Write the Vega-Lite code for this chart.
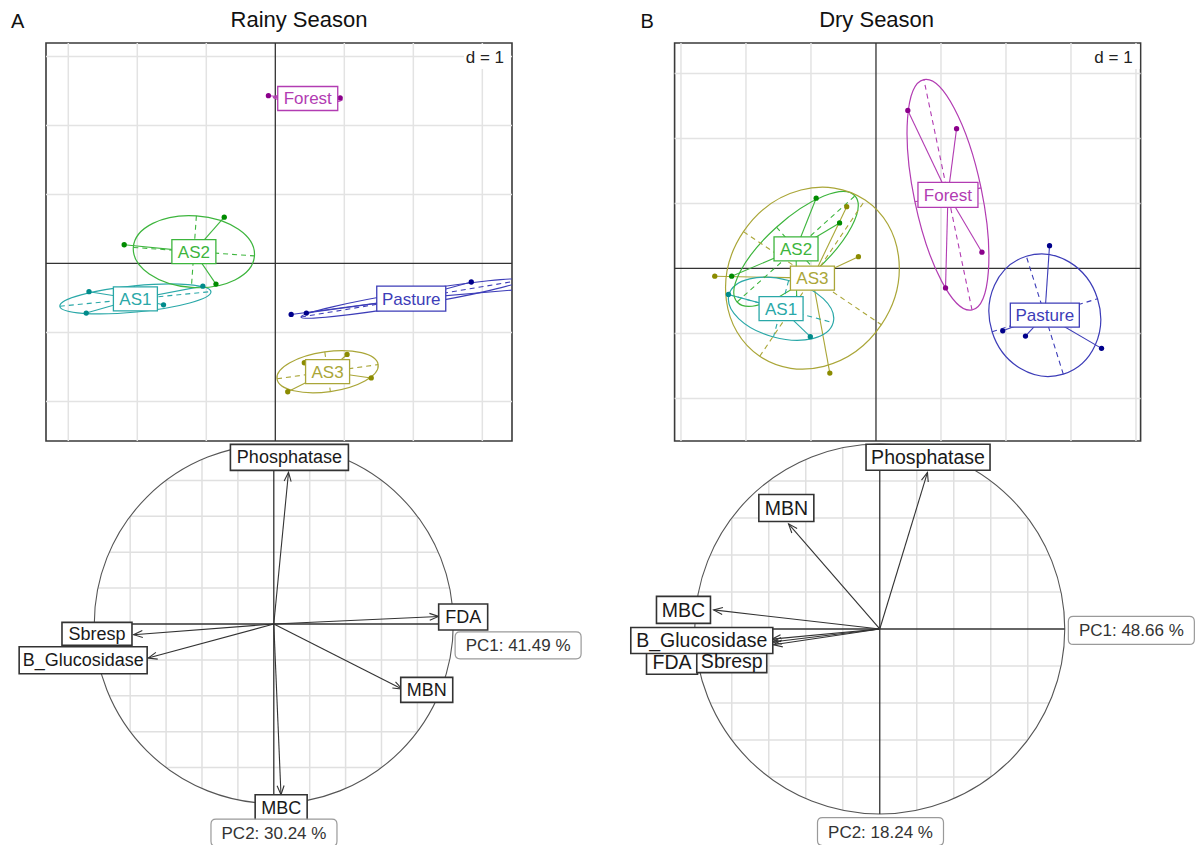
{
"$schema":"https://vega.github.io/schema/vega-lite/v6.json",
"padding":{"left":11,"top":8,"right":0,"bottom":0},
"background":"white",
"config":{"font":"Liberation Sans","view":{"stroke":null},"axis":{"disable":true},"legend":{"disable":true},"title":{"fontWeight":"normal","color":"#111"}},
"datasets":{
"rainy":[
{"group":"AS1","x":-2.70,"y":-0.41},{"group":"AS1","x":-2.74,"y":-0.72},{"group":"AS1","x":-1.62,"y":-0.60},{"group":"AS1","x":-1.05,"y":-0.33},
{"group":"AS2","x":-2.19,"y":0.27},{"group":"AS2","x":-0.74,"y":0.67},{"group":"AS2","x":-0.86,"y":-0.30},{"group":"AS2","x":-0.93,"y":0.04},
{"group":"AS3","x":0.18,"y":-1.86},{"group":"AS3","x":0.42,"y":-1.44},{"group":"AS3","x":1.04,"y":-1.32},{"group":"AS3","x":1.39,"y":-1.66},
{"group":"Forest","x":-0.10,"y":2.43},{"group":"Forest","x":0.94,"y":2.40},{"group":"Forest","x":0.50,"y":2.37},{"group":"Forest","x":0.54,"y":2.36},
{"group":"Pasture","x":0.23,"y":-0.74},{"group":"Pasture","x":0.45,"y":-0.72},{"group":"Pasture","x":2.84,"y":-0.27},{"group":"Pasture","x":4.36,"y":-0.31}
],
"dry":[
{"group":"AS1","x":-2.27,"y":-0.40},{"group":"AS1","x":-1.01,"y":-1.05},{"group":"AS1","x":-1.30,"y":-0.50},{"group":"AS1","x":-1.26,"y":-0.53},
{"group":"AS2","x":-0.92,"y":1.08},{"group":"AS2","x":-0.56,"y":0.70},{"group":"AS2","x":-2.22,"y":-0.12},{"group":"AS2","x":-1.22,"y":-0.46},
{"group":"AS3","x":-2.48,"y":-0.12},{"group":"AS3","x":-0.45,"y":0.95},{"group":"AS3","x":-0.27,"y":0.18},{"group":"AS3","x":-0.71,"y":-1.61},
{"group":"Forest","x":0.49,"y":2.43},{"group":"Forest","x":1.24,"y":2.15},{"group":"Forest","x":1.63,"y":0.25},{"group":"Forest","x":1.07,"y":-0.30},
{"group":"Pasture","x":2.67,"y":0.35},{"group":"Pasture","x":1.95,"y":-0.96},{"group":"Pasture","x":2.30,"y":-1.04},{"group":"Pasture","x":3.47,"y":-1.23}
],
"ellA":[{"group":"AS1","ang":5.5},{"group":"AS2","ang":-4},{"group":"AS3","ang":8},{"group":"Forest","ang":-2},{"group":"Pasture","ang":9.5}],
"ellB":[{"group":"AS1","ang":-15},{"group":"AS2","ang":42},{"group":"AS3","ang":56},{"group":"Forest","ang":101.8},{"group":"Pasture","ang":107.4}],
"gridA":[{"d":"x","v":-3},{"d":"x","v":-2},{"d":"x","v":-1},{"d":"x","v":1},{"d":"x","v":2},{"d":"x","v":3},{"d":"y","v":-2},{"d":"y","v":-1},{"d":"y","v":1},{"d":"y","v":2},{"d":"y","v":3}],
"gridB":[{"d":"x","v":-3},{"d":"x","v":-2},{"d":"x","v":-1},{"d":"x","v":1},{"d":"x","v":2},{"d":"x","v":3},{"d":"x","v":4},{"d":"y","v":-2},{"d":"y","v":-1},{"d":"y","v":1},{"d":"y","v":2},{"d":"y","v":3}],
"cgrid":[{"v":-0.8,"lo":-0.6,"hi":0.6},{"v":-0.6,"lo":-0.8,"hi":0.8},{"v":-0.4,"lo":-0.9165,"hi":0.9165},{"v":-0.2,"lo":-0.9798,"hi":0.9798},{"v":0.2,"lo":-0.9798,"hi":0.9798},{"v":0.4,"lo":-0.9165,"hi":0.9165},{"v":0.6,"lo":-0.8,"hi":0.8},{"v":0.8,"lo":-0.6,"hi":0.6}],
"varsA":[{"var":"Phosphatase","x":0.082,"y":0.845,"lx":0.087,"ly":0.928},{"var":"Sbresp","x":-0.781,"y":-0.06,"lx":-0.985,"ly":-0.055},{"var":"B_Glucosidase","x":-0.70,"y":-0.19,"lx":-1.062,"ly":-0.202},{"var":"MBC","x":0.04,"y":-0.951,"lx":0.041,"ly":-1.024},{"var":"FDA","x":0.918,"y":0.042,"lx":1.055,"ly":0.039},{"var":"MBN","x":0.714,"y":-0.362,"lx":0.852,"ly":-0.367}],
"varsB":[{"var":"Phosphatase","x":0.258,"y":0.846,"lx":0.261,"ly":0.928},{"var":"MBN","x":-0.493,"y":0.568,"lx":-0.505,"ly":0.654},{"var":"MBC","x":-0.898,"y":0.103,"lx":-1.061,"ly":0.103},{"var":"FDA","x":-0.58,"y":-0.07,"lx":-1.123,"ly":-0.18},{"var":"Sbresp","x":-0.575,"y":-0.085,"lx":-0.80,"ly":-0.171},{"var":"B_Glucosidase","x":-0.583,"y":-0.055,"lx":-0.962,"ly":-0.062}],
"pcA":[{"lab":"PC1: 41.49 %","x":1.361,"y":-0.119},{"lab":"PC2: 30.24 %","x":0.001,"y":-1.163}],
"pcB":[{"lab":"PC1: 48.66 %","x":1.36,"y":-0.008},{"lab":"PC2: 18.24 %","x":0.004,"y":-1.095}]
},
"spacing":628.6,
"bounds":"flush",
"resolve":{"scale":{"shape":"independent","stroke":"independent","fill":"independent","color":"independent","angle":"independent"}},
"hconcat":[
{
"title":{"text":"A","anchor":"start","frame":"group","dx":-35,"offset":-24,"fontSize":20},
"spacing":0,"bounds":"flush",
"resolve":{"scale":{"shape":"independent","stroke":"independent","fill":"independent","color":"independent","angle":"independent"}},
"vconcat":[
{
"width":466,"height":398,
"title":{"text":"Rainy Season","anchor":"middle","frame":"group","dx":20,"offset":10,"fontSize":22},
"view":{"stroke":"#3a3a3a","strokeWidth":1.6},
"resolve":{"scale":{"shape":"independent","stroke":"independent","fill":"independent","color":"independent","angle":"independent"}},
"layer":[
{"data":{"name":"gridA"},"transform":[{"filter":"datum.d == 'x'"}],"mark":{"type":"rule","color":"#e3e3e3","strokeWidth":1.5},"encoding":{"x":{"field":"v","type":"quantitative","scale":{"domain":[-3.323,3.43],"nice":false,"zero":false}}}},
{"data":{"name":"gridA"},"transform":[{"filter":"datum.d == 'y'"}],"mark":{"type":"rule","color":"#e3e3e3","strokeWidth":1.5},"encoding":{"y":{"field":"v","type":"quantitative","scale":{"domain":[-2.574,3.194],"nice":false,"zero":false}}}},
{"data":{"values":[{}]},"mark":{"type":"rule","color":"#333","strokeWidth":1.3},"encoding":{"x":{"datum":0,"type":"quantitative","scale":{"domain":[-3.323,3.43],"nice":false,"zero":false}}}},
{"data":{"values":[{}]},"mark":{"type":"rule","color":"#333","strokeWidth":1.3},"encoding":{"y":{"datum":0,"type":"quantitative","scale":{"domain":[-2.574,3.194],"nice":false,"zero":false}}}},
{"data":{"name":"rainy"},"transform":[{"joinaggregate":[{"op":"mean","field":"x","as":"cx"},{"op":"mean","field":"y","as":"cy"}],"groupby":["group"]}],
 "mark":{"type":"rule","strokeWidth":1.1,"clip":true},
 "encoding":{"x":{"field":"x","type":"quantitative","scale":{"domain":[-3.323,3.43],"nice":false,"zero":false}},"y":{"field":"y","type":"quantitative","scale":{"domain":[-2.574,3.194],"nice":false,"zero":false}},"x2":{"field":"cx"},"y2":{"field":"cy"},
 "stroke":{"field":"group","type":"nominal","scale":{"domain":["AS1","AS2","AS3","Forest","Pasture"],"range":["#2aa8a8","#3db53d","#aaa638","#b23cb2","#3d3db8"]}}}},
{"data":{"name":"rainy"},"transform":[{"aggregate":[{"op":"mean","field":"x","as":"cx"},{"op":"mean","field":"y","as":"cy"}],"groupby":["group"]},{"lookup":"group","from":{"data":{"name":"ellA"},"key":"group","fields":["ang"]}}],
 "mark":{"type":"point","filled":false,"fill":"transparent","size":19044,"strokeWidth":1.2,"opacity":1,"clip":true},
 "encoding":{"x":{"field":"cx","type":"quantitative","scale":{"domain":[-3.323,3.43],"nice":false,"zero":false}},"y":{"field":"cy","type":"quantitative","scale":{"domain":[-2.574,3.194],"nice":false,"zero":false}},
 "shape":{"field":"group","type":"nominal","scale":{"domain":["AS1","AS2","AS3","Forest","Pasture"],"range":[
 "M 1.1 0 C 1.1 0.105 0.608 0.19 0 0.19 C -0.608 0.19 -1.1 0.105 -1.1 0 C -1.1 -0.105 -0.608 -0.19 0 -0.19 C 0.608 -0.19 1.1 -0.105 1.1 0 Z",
 "M 0.88 0 C 0.88 0.287 0.486 0.52 0 0.52 C -0.486 0.52 -0.88 0.287 -0.88 0 C -0.88 -0.287 -0.486 -0.52 0 -0.52 C 0.486 -0.52 0.88 -0.287 0.88 0 Z",
 "M 0.74 0 C 0.74 0.16 0.409 0.29 0 0.29 C -0.409 0.29 -0.74 0.16 -0.74 0 C -0.74 -0.16 -0.409 -0.29 0 -0.29 C 0.409 -0.29 0.74 -0.16 0.74 0 Z",
 "M 0.5 0 C 0.5 0.028 0.276 0.05 0 0.05 C -0.276 0.05 -0.5 0.028 -0.5 0 C -0.5 -0.028 -0.276 -0.05 0 -0.05 C 0.276 -0.05 0.5 -0.028 0.5 0 Z",
 "M 1.62 0 C 1.62 0.055 0.895 0.1 0 0.1 C -0.895 0.1 -1.62 0.055 -1.62 0 C -1.62 -0.055 -0.895 -0.1 0 -0.1 C 0.895 -0.1 1.62 -0.055 1.62 0 Z"]}},
 "angle":{"field":"ang","type":"quantitative","scale":{"domain":[-180,180],"range":[180,-180]}},
 "stroke":{"field":"group","type":"nominal","scale":{"domain":["AS1","AS2","AS3","Forest","Pasture"],"range":["#2aa8a8","#3db53d","#aaa638","#b23cb2","#3d3db8"]}}}},
{"data":{"name":"rainy"},"transform":[{"aggregate":[{"op":"mean","field":"x","as":"cx"},{"op":"mean","field":"y","as":"cy"}],"groupby":["group"]},{"lookup":"group","from":{"data":{"name":"ellA"},"key":"group","fields":["ang"]}}],
 "mark":{"type":"point","filled":false,"fill":"transparent","size":19044,"strokeWidth":1.1,"strokeDash":[5,4],"opacity":1,"clip":true},
 "encoding":{"x":{"field":"cx","type":"quantitative","scale":{"domain":[-3.323,3.43],"nice":false,"zero":false}},"y":{"field":"cy","type":"quantitative","scale":{"domain":[-2.574,3.194],"nice":false,"zero":false}},
 "shape":{"field":"group","type":"nominal","scale":{"domain":["AS1","AS2","AS3","Forest","Pasture"],"range":["M -1.1 0 L 1.1 0 M 0 -0.19 L 0 0.19","M -0.88 0 L 0.88 0 M 0 -0.52 L 0 0.52","M -0.74 0 L 0.74 0 M 0 -0.29 L 0 0.29","M -0.5 0 L 0.5 0 M 0 -0.05 L 0 0.05","M -1.62 0 L 1.62 0 M 0 -0.1 L 0 0.1"]}},
 "angle":{"field":"ang","type":"quantitative","scale":{"domain":[-180,180],"range":[180,-180]}},
 "stroke":{"field":"group","type":"nominal","scale":{"domain":["AS1","AS2","AS3","Forest","Pasture"],"range":["#2aa8a8","#3db53d","#aaa638","#b23cb2","#3d3db8"]}}}},
{"data":{"name":"rainy"},"mark":{"type":"point","filled":true,"shape":"circle","size":28,"opacity":1,"clip":true},
 "encoding":{"x":{"field":"x","type":"quantitative","scale":{"domain":[-3.323,3.43],"nice":false,"zero":false}},"y":{"field":"y","type":"quantitative","scale":{"domain":[-2.574,3.194],"nice":false,"zero":false}},
 "fill":{"field":"group","type":"nominal","scale":{"domain":["AS1","AS2","AS3","Forest","Pasture"],"range":["#008b8b","#008b00","#8b8b00","#8b008b","#00008b"]}}}},
{"data":{"name":"rainy"},"transform":[{"aggregate":[{"op":"mean","field":"x","as":"cx"},{"op":"mean","field":"y","as":"cy"}],"groupby":["group"]}],
 "mark":{"type":"point","filled":true,"fill":"white","size":4,"strokeWidth":1.3,"opacity":1},
 "encoding":{"x":{"field":"cx","type":"quantitative","scale":{"domain":[-3.323,3.43],"nice":false,"zero":false}},"y":{"field":"cy","type":"quantitative","scale":{"domain":[-2.574,3.194],"nice":false,"zero":false}},
 "shape":{"field":"group","type":"nominal","scale":{"domain":["AS1","AS2","AS3","Forest","Pasture"],"range":["M -22 -12 L 22 -12 L 22 12 L -22 12 Z","M -22 -12 L 22 -12 L 22 12 L -22 12 Z","M -22 -12 L 22 -12 L 22 12 L -22 12 Z","M -30 -12 L 30 -12 L 30 12 L -30 12 Z","M -34.5 -12.5 L 34.5 -12.5 L 34.5 12.5 L -34.5 12.5 Z"]}},
 "stroke":{"field":"group","type":"nominal","scale":{"domain":["AS1","AS2","AS3","Forest","Pasture"],"range":["#2aa8a8","#3db53d","#aaa638","#b23cb2","#3d3db8"]}}}},
{"data":{"name":"rainy"},"transform":[{"aggregate":[{"op":"mean","field":"x","as":"cx"},{"op":"mean","field":"y","as":"cy"}],"groupby":["group"]}],
 "mark":{"type":"text","fontSize":17,"align":"center","baseline":"middle","dy":1},
 "encoding":{"x":{"field":"cx","type":"quantitative","scale":{"domain":[-3.323,3.43],"nice":false,"zero":false}},"y":{"field":"cy","type":"quantitative","scale":{"domain":[-2.574,3.194],"nice":false,"zero":false}},"text":{"field":"group"},
 "color":{"field":"group","type":"nominal","scale":{"domain":["AS1","AS2","AS3","Forest","Pasture"],"range":["#2aa8a8","#3db53d","#aaa638","#b23cb2","#3d3db8"]}}}},
{"data":{"values":[{}]},"mark":{"type":"point","filled":true,"fill":"white","strokeWidth":0,"size":4,"opacity":1,"shape":"M -48 1 L -1 1 L -1 26 L -48 26 Z"},"encoding":{"x":{"value":"width"},"y":{"value":0}}},
{"data":{"values":[{"t":"d = 1"}]},"mark":{"type":"text","align":"right","baseline":"middle","dx":-8,"dy":14.5,"fontSize":17,"color":"#222"},"encoding":{"x":{"value":"width"},"y":{"value":0},"text":{"field":"t"}}}
]
},
{
"width":466,"height":405,
"resolve":{"scale":{"shape":"independent","stroke":"independent","fill":"independent","color":"independent","angle":"independent"}},
"layer":[
{"data":{"name":"cgrid"},"mark":{"type":"rule","color":"#e0e0e0","strokeWidth":1.5},"encoding":{"y":{"field":"v","type":"quantitative","scale":{"domain":[-1.237,1.0195],"nice":false,"zero":false}},"x":{"field":"lo","type":"quantitative","scale":{"domain":[-1.269,1.327],"nice":false,"zero":false}},"x2":{"field":"hi"}}},
{"data":{"name":"cgrid"},"mark":{"type":"rule","color":"#e0e0e0","strokeWidth":1.5},"encoding":{"x":{"field":"v","type":"quantitative","scale":{"domain":[-1.269,1.327],"nice":false,"zero":false}},"y":{"field":"lo","type":"quantitative","scale":{"domain":[-1.237,1.0195],"nice":false,"zero":false}},"y2":{"field":"hi"}}},
{"data":{"values":[{}]},"mark":{"type":"point","shape":"circle","size":128881,"filled":false,"fill":"transparent","stroke":"#555","strokeWidth":1.1,"opacity":1},"encoding":{"x":{"datum":0,"type":"quantitative","scale":{"domain":[-1.269,1.327],"nice":false,"zero":false}},"y":{"datum":0,"type":"quantitative","scale":{"domain":[-1.237,1.0195],"nice":false,"zero":false}}}},
{"data":{"values":[{}]},"mark":{"type":"rule","color":"#333","strokeWidth":1.3},"encoding":{"x":{"datum":-1,"type":"quantitative","scale":{"domain":[-1.269,1.327],"nice":false,"zero":false}},"x2":{"datum":1},"y":{"datum":0,"type":"quantitative","scale":{"domain":[-1.237,1.0195],"nice":false,"zero":false}}}},
{"data":{"values":[{}]},"mark":{"type":"rule","color":"#333","strokeWidth":1.3},"encoding":{"y":{"datum":-1,"type":"quantitative","scale":{"domain":[-1.237,1.0195],"nice":false,"zero":false}},"y2":{"datum":1},"x":{"datum":0,"type":"quantitative","scale":{"domain":[-1.269,1.327],"nice":false,"zero":false}}}},
{"data":{"name":"varsA"},"mark":{"type":"rule","color":"#333","strokeWidth":1.1},"encoding":{"x":{"field":"x","type":"quantitative","scale":{"domain":[-1.269,1.327],"nice":false,"zero":false}},"y":{"field":"y","type":"quantitative","scale":{"domain":[-1.237,1.0195],"nice":false,"zero":false}},"x2":{"datum":0},"y2":{"datum":0}}},
{"data":{"name":"varsA"},"transform":[{"calculate":"-atan2(datum.y, datum.x) * 180 / PI","as":"ang"}],"mark":{"type":"point","filled":false,"fill":"transparent","stroke":"#333","strokeWidth":1.1,"size":4,"opacity":1,"shape":"M -9 -3.5 L 0 0 L -9 3.5"},"encoding":{"x":{"field":"x","type":"quantitative","scale":{"domain":[-1.269,1.327],"nice":false,"zero":false}},"y":{"field":"y","type":"quantitative","scale":{"domain":[-1.237,1.0195],"nice":false,"zero":false}},"angle":{"field":"ang","type":"quantitative","scale":null}}},
{"data":{"name":"varsA"},"mark":{"type":"point","filled":true,"fill":"white","stroke":"#333","strokeWidth":1.6,"size":4,"opacity":1},"encoding":{"x":{"field":"lx","type":"quantitative","scale":{"domain":[-1.269,1.327],"nice":false,"zero":false}},"y":{"field":"ly","type":"quantitative","scale":{"domain":[-1.237,1.0195],"nice":false,"zero":false}},
 "shape":{"field":"var","type":"nominal","scale":{"domain":["Phosphatase","Sbresp","B_Glucosidase","MBC","FDA","MBN"],"range":["M -59 -13 L 59 -13 L 59 13 L -59 13 Z","M -35 -11.5 L 35 -11.5 L 35 11.5 L -35 11.5 Z","M -64 -13.5 L 64 -13.5 L 64 13.5 L -64 13.5 Z","M -26 -13 L 26 -13 L 26 13 L -26 13 Z","M -24.5 -13 L 24.5 -13 L 24.5 13 L -24.5 13 Z","M -26 -12.5 L 26 -12.5 L 26 12.5 L -26 12.5 Z"]}}}},
{"data":{"name":"varsA"},"mark":{"type":"text","fontSize":18,"color":"#1a1a1a","align":"center","baseline":"middle","dy":1},"encoding":{"x":{"field":"lx","type":"quantitative","scale":{"domain":[-1.269,1.327],"nice":false,"zero":false}},"y":{"field":"ly","type":"quantitative","scale":{"domain":[-1.237,1.0195],"nice":false,"zero":false}},"text":{"field":"var"}}},
{"data":{"name":"pcA"},"mark":{"type":"point","filled":true,"fill":"white","stroke":"#9a9a9a","strokeWidth":1.2,"size":4,"opacity":1,"shape":"M -58 -13.5 L 58 -13.5 Q 63 -13.5 63 -8.5 L 63 8.5 Q 63 13.5 58 13.5 L -58 13.5 Q -63 13.5 -63 8.5 L -63 -8.5 Q -63 -13.5 -58 -13.5 Z"},"encoding":{"x":{"field":"x","type":"quantitative","scale":{"domain":[-1.269,1.327],"nice":false,"zero":false}},"y":{"field":"y","type":"quantitative","scale":{"domain":[-1.237,1.0195],"nice":false,"zero":false}}}},
{"data":{"name":"pcA"},"mark":{"type":"text","fontSize":17,"color":"#333","align":"center","baseline":"middle","dy":1},"encoding":{"x":{"field":"x","type":"quantitative","scale":{"domain":[-1.269,1.327],"nice":false,"zero":false}},"y":{"field":"y","type":"quantitative","scale":{"domain":[-1.237,1.0195],"nice":false,"zero":false}},"text":{"field":"lab"}}}
]
}
]
},
{
"title":{"text":"B","anchor":"start","frame":"group","dx":-34,"offset":-24,"fontSize":20},
"spacing":0,"bounds":"flush",
"resolve":{"scale":{"shape":"independent","stroke":"independent","fill":"independent","color":"independent","angle":"independent"}},
"vconcat":[
{
"width":466,"height":398,
"title":{"text":"Dry Season","anchor":"middle","frame":"group","dx":-31,"offset":10,"fontSize":22},
"view":{"stroke":"#3a3a3a","strokeWidth":1.6},
"resolve":{"scale":{"shape":"independent","stroke":"independent","fill":"independent","color":"independent","angle":"independent"}},
"layer":[
{"data":{"name":"gridB"},"transform":[{"filter":"datum.d == 'x'"}],"mark":{"type":"rule","color":"#e3e3e3","strokeWidth":1.5},"encoding":{"x":{"field":"v","type":"quantitative","scale":{"domain":[-3.098,4.071],"nice":false,"zero":false}}}},
{"data":{"name":"gridB"},"transform":[{"filter":"datum.d == 'y'"}],"mark":{"type":"rule","color":"#e3e3e3","strokeWidth":1.5},"encoding":{"y":{"field":"v","type":"quantitative","scale":{"domain":[-2.655,3.468],"nice":false,"zero":false}}}},
{"data":{"values":[{}]},"mark":{"type":"rule","color":"#333","strokeWidth":1.3},"encoding":{"x":{"datum":0,"type":"quantitative","scale":{"domain":[-3.098,4.071],"nice":false,"zero":false}}}},
{"data":{"values":[{}]},"mark":{"type":"rule","color":"#333","strokeWidth":1.3},"encoding":{"y":{"datum":0,"type":"quantitative","scale":{"domain":[-2.655,3.468],"nice":false,"zero":false}}}},
{"data":{"name":"dry"},"transform":[{"joinaggregate":[{"op":"mean","field":"x","as":"cx"},{"op":"mean","field":"y","as":"cy"}],"groupby":["group"]}],
 "mark":{"type":"rule","strokeWidth":1.1,"clip":true},
 "encoding":{"x":{"field":"x","type":"quantitative","scale":{"domain":[-3.098,4.071],"nice":false,"zero":false}},"y":{"field":"y","type":"quantitative","scale":{"domain":[-2.655,3.468],"nice":false,"zero":false}},"x2":{"field":"cx"},"y2":{"field":"cy"},
 "stroke":{"field":"group","type":"nominal","scale":{"domain":["AS1","AS2","AS3","Forest","Pasture"],"range":["#2aa8a8","#3db53d","#aaa638","#b23cb2","#3d3db8"]}}}},
{"data":{"name":"dry"},"transform":[{"aggregate":[{"op":"mean","field":"x","as":"cx"},{"op":"mean","field":"y","as":"cy"}],"groupby":["group"]},{"lookup":"group","from":{"data":{"name":"ellB"},"key":"group","fields":["ang"]}}],
 "mark":{"type":"point","filled":false,"fill":"transparent","size":16900,"strokeWidth":1.2,"opacity":1,"clip":true},
 "encoding":{"x":{"field":"cx","type":"quantitative","scale":{"domain":[-3.098,4.071],"nice":false,"zero":false}},"y":{"field":"cy","type":"quantitative","scale":{"domain":[-2.655,3.468],"nice":false,"zero":false}},
 "shape":{"field":"group","type":"nominal","scale":{"domain":["AS1","AS2","AS3","Forest","Pasture"],"range":[
 "M 0.83 0 C 0.83 0.249 0.458 0.45 0 0.45 C -0.458 0.45 -0.83 0.249 -0.83 0 C -0.83 -0.249 -0.458 -0.45 0 -0.45 C 0.458 -0.45 0.83 -0.249 0.83 0 Z",
 "M 1.22 0 C 1.22 0.249 0.674 0.45 0 0.45 C -0.674 0.45 -1.22 0.249 -1.22 0 C -1.22 -0.249 -0.674 -0.45 0 -0.45 C 0.674 -0.45 1.22 -0.249 1.22 0 Z",
 "M 1.45 0 C 1.45 0.707 0.801 1.28 0 1.28 C -0.801 1.28 -1.45 0.707 -1.45 0 C -1.45 -0.707 -0.801 -1.28 0 -1.28 C 0.801 -1.28 1.45 -0.707 1.45 0 Z",
 "M 1.81 0 C 1.81 0.287 1 0.52 0 0.52 C -1 0.52 -1.81 0.287 -1.81 0 C -1.81 -0.287 -1 -0.52 0 -0.52 C 1 -0.52 1.81 -0.287 1.81 0 Z",
 "M 0.95 0 C 0.95 0.469 0.525 0.85 0 0.85 C -0.525 0.85 -0.95 0.469 -0.95 0 C -0.95 -0.469 -0.525 -0.85 0 -0.85 C 0.525 -0.85 0.95 -0.469 0.95 0 Z"]}},
 "angle":{"field":"ang","type":"quantitative","scale":{"domain":[-180,180],"range":[180,-180]}},
 "stroke":{"field":"group","type":"nominal","scale":{"domain":["AS1","AS2","AS3","Forest","Pasture"],"range":["#2aa8a8","#3db53d","#aaa638","#b23cb2","#3d3db8"]}}}},
{"data":{"name":"dry"},"transform":[{"aggregate":[{"op":"mean","field":"x","as":"cx"},{"op":"mean","field":"y","as":"cy"}],"groupby":["group"]},{"lookup":"group","from":{"data":{"name":"ellB"},"key":"group","fields":["ang"]}}],
 "mark":{"type":"point","filled":false,"fill":"transparent","size":16900,"strokeWidth":1.1,"strokeDash":[5,4],"opacity":1,"clip":true},
 "encoding":{"x":{"field":"cx","type":"quantitative","scale":{"domain":[-3.098,4.071],"nice":false,"zero":false}},"y":{"field":"cy","type":"quantitative","scale":{"domain":[-2.655,3.468],"nice":false,"zero":false}},
 "shape":{"field":"group","type":"nominal","scale":{"domain":["AS1","AS2","AS3","Forest","Pasture"],"range":["M -0.83 0 L 0.83 0 M 0 -0.45 L 0 0.45","M -1.22 0 L 1.22 0 M 0 -0.45 L 0 0.45","M -1.45 0 L 1.45 0 M 0 -1.28 L 0 1.28","M -1.81 0 L 1.81 0 M 0 -0.52 L 0 0.52","M -0.95 0 L 0.95 0 M 0 -0.85 L 0 0.85"]}},
 "angle":{"field":"ang","type":"quantitative","scale":{"domain":[-180,180],"range":[180,-180]}},
 "stroke":{"field":"group","type":"nominal","scale":{"domain":["AS1","AS2","AS3","Forest","Pasture"],"range":["#2aa8a8","#3db53d","#aaa638","#b23cb2","#3d3db8"]}}}},
{"data":{"name":"dry"},"mark":{"type":"point","filled":true,"shape":"circle","size":28,"opacity":1,"clip":true},
 "encoding":{"x":{"field":"x","type":"quantitative","scale":{"domain":[-3.098,4.071],"nice":false,"zero":false}},"y":{"field":"y","type":"quantitative","scale":{"domain":[-2.655,3.468],"nice":false,"zero":false}},
 "fill":{"field":"group","type":"nominal","scale":{"domain":["AS1","AS2","AS3","Forest","Pasture"],"range":["#008b8b","#008b00","#8b8b00","#8b008b","#00008b"]}}}},
{"data":{"name":"dry"},"transform":[{"aggregate":[{"op":"mean","field":"x","as":"cx"},{"op":"mean","field":"y","as":"cy"}],"groupby":["group"]}],
 "mark":{"type":"point","filled":true,"fill":"white","size":4,"strokeWidth":1.3,"opacity":1},
 "encoding":{"x":{"field":"cx","type":"quantitative","scale":{"domain":[-3.098,4.071],"nice":false,"zero":false}},"y":{"field":"cy","type":"quantitative","scale":{"domain":[-2.655,3.468],"nice":false,"zero":false}},
 "shape":{"field":"group","type":"nominal","scale":{"domain":["AS1","AS2","AS3","Forest","Pasture"],"range":["M -22 -12 L 22 -12 L 22 12 L -22 12 Z","M -22 -12 L 22 -12 L 22 12 L -22 12 Z","M -22 -12 L 22 -12 L 22 12 L -22 12 Z","M -30 -12.5 L 30 -12.5 L 30 12.5 L -30 12.5 Z","M -34.5 -12 L 34.5 -12 L 34.5 12 L -34.5 12 Z"]}},
 "stroke":{"field":"group","type":"nominal","scale":{"domain":["AS1","AS2","AS3","Forest","Pasture"],"range":["#2aa8a8","#3db53d","#aaa638","#b23cb2","#3d3db8"]}}}},
{"data":{"name":"dry"},"transform":[{"aggregate":[{"op":"mean","field":"x","as":"cx"},{"op":"mean","field":"y","as":"cy"}],"groupby":["group"]}],
 "mark":{"type":"text","fontSize":17,"align":"center","baseline":"middle","dy":1},
 "encoding":{"x":{"field":"cx","type":"quantitative","scale":{"domain":[-3.098,4.071],"nice":false,"zero":false}},"y":{"field":"cy","type":"quantitative","scale":{"domain":[-2.655,3.468],"nice":false,"zero":false}},"text":{"field":"group"},
 "color":{"field":"group","type":"nominal","scale":{"domain":["AS1","AS2","AS3","Forest","Pasture"],"range":["#2aa8a8","#3db53d","#aaa638","#b23cb2","#3d3db8"]}}}},
{"data":{"values":[{}]},"mark":{"type":"point","filled":true,"fill":"white","strokeWidth":0,"size":4,"opacity":1,"shape":"M -48 1 L -1 1 L -1 26 L -48 26 Z"},"encoding":{"x":{"value":"width"},"y":{"value":0}}},
{"data":{"values":[{"t":"d = 1"}]},"mark":{"type":"text","align":"right","baseline":"middle","dx":-8,"dy":14.5,"fontSize":17,"color":"#222"},"encoding":{"x":{"value":"width"},"y":{"value":0},"text":{"field":"t"}}}
]
},
{
"width":466,"height":405,
"resolve":{"scale":{"shape":"independent","stroke":"independent","fill":"independent","color":"independent","angle":"independent"}},
"layer":[
{"data":{"name":"cgrid"},"mark":{"type":"rule","color":"#e0e0e0","strokeWidth":1.5},"encoding":{"y":{"field":"v","type":"quantitative","scale":{"domain":[-1.173,1.016],"nice":false,"zero":false}},"x":{"field":"lo","type":"quantitative","scale":{"domain":[-1.109,1.41],"nice":false,"zero":false}},"x2":{"field":"hi"}}},
{"data":{"name":"cgrid"},"mark":{"type":"rule","color":"#e0e0e0","strokeWidth":1.5},"encoding":{"x":{"field":"v","type":"quantitative","scale":{"domain":[-1.109,1.41],"nice":false,"zero":false}},"y":{"field":"lo","type":"quantitative","scale":{"domain":[-1.173,1.016],"nice":false,"zero":false}},"y2":{"field":"hi"}}},
{"data":{"values":[{}]},"mark":{"type":"point","shape":"circle","size":136900,"filled":false,"fill":"transparent","stroke":"#555","strokeWidth":1.1,"opacity":1},"encoding":{"x":{"datum":0,"type":"quantitative","scale":{"domain":[-1.109,1.41],"nice":false,"zero":false}},"y":{"datum":0,"type":"quantitative","scale":{"domain":[-1.173,1.016],"nice":false,"zero":false}}}},
{"data":{"values":[{}]},"mark":{"type":"rule","color":"#333","strokeWidth":1.3},"encoding":{"x":{"datum":-1,"type":"quantitative","scale":{"domain":[-1.109,1.41],"nice":false,"zero":false}},"x2":{"datum":1},"y":{"datum":0,"type":"quantitative","scale":{"domain":[-1.173,1.016],"nice":false,"zero":false}}}},
{"data":{"values":[{}]},"mark":{"type":"rule","color":"#333","strokeWidth":1.3},"encoding":{"y":{"datum":-1,"type":"quantitative","scale":{"domain":[-1.173,1.016],"nice":false,"zero":false}},"y2":{"datum":1},"x":{"datum":0,"type":"quantitative","scale":{"domain":[-1.109,1.41],"nice":false,"zero":false}}}},
{"data":{"name":"varsB"},"mark":{"type":"rule","color":"#333","strokeWidth":1.1},"encoding":{"x":{"field":"x","type":"quantitative","scale":{"domain":[-1.109,1.41],"nice":false,"zero":false}},"y":{"field":"y","type":"quantitative","scale":{"domain":[-1.173,1.016],"nice":false,"zero":false}},"x2":{"datum":0},"y2":{"datum":0}}},
{"data":{"name":"varsB"},"transform":[{"calculate":"-atan2(datum.y, datum.x) * 180 / PI","as":"ang"}],"mark":{"type":"point","filled":false,"fill":"transparent","stroke":"#333","strokeWidth":1.1,"size":4,"opacity":1,"shape":"M -9 -3.5 L 0 0 L -9 3.5"},"encoding":{"x":{"field":"x","type":"quantitative","scale":{"domain":[-1.109,1.41],"nice":false,"zero":false}},"y":{"field":"y","type":"quantitative","scale":{"domain":[-1.173,1.016],"nice":false,"zero":false}},"angle":{"field":"ang","type":"quantitative","scale":null}}},
{"data":{"name":"varsB"},"mark":{"type":"point","filled":true,"fill":"white","stroke":"#333","strokeWidth":1.6,"size":4,"opacity":1},"encoding":{"x":{"field":"lx","type":"quantitative","scale":{"domain":[-1.109,1.41],"nice":false,"zero":false}},"y":{"field":"ly","type":"quantitative","scale":{"domain":[-1.173,1.016],"nice":false,"zero":false}},
 "shape":{"field":"var","type":"nominal","scale":{"domain":["Phosphatase","MBN","MBC","FDA","Sbresp","B_Glucosidase"],"range":["M -62 -13 L 62 -13 L 62 13 L -62 13 Z","M -27.5 -13.5 L 27.5 -13.5 L 27.5 13.5 L -27.5 13.5 Z","M -27 -13.5 L 27 -13.5 L 27 13.5 L -27 13.5 Z","M -25.5 -12 L 25.5 -12 L 25.5 12 L -25.5 12 Z","M -35 -12 L 35 -12 L 35 12 L -35 12 Z","M -71 -13 L 71 -13 L 71 13 L -71 13 Z"]}}}},
{"data":{"name":"varsB"},"mark":{"type":"text","fontSize":19.5,"color":"#1a1a1a","align":"center","baseline":"middle","dy":1},"encoding":{"x":{"field":"lx","type":"quantitative","scale":{"domain":[-1.109,1.41],"nice":false,"zero":false}},"y":{"field":"ly","type":"quantitative","scale":{"domain":[-1.173,1.016],"nice":false,"zero":false}},"text":{"field":"var"}}},
{"data":{"name":"pcB"},"mark":{"type":"point","filled":true,"fill":"white","stroke":"#9a9a9a","strokeWidth":1.2,"size":4,"opacity":1,"shape":"M -58 -14 L 58 -14 Q 63 -14 63 -9 L 63 9 Q 63 14 58 14 L -58 14 Q -63 14 -63 9 L -63 -9 Q -63 -14 -58 -14 Z"},"encoding":{"x":{"field":"x","type":"quantitative","scale":{"domain":[-1.109,1.41],"nice":false,"zero":false}},"y":{"field":"y","type":"quantitative","scale":{"domain":[-1.173,1.016],"nice":false,"zero":false}}}},
{"data":{"name":"pcB"},"mark":{"type":"text","fontSize":17,"color":"#333","align":"center","baseline":"middle","dy":1},"encoding":{"x":{"field":"x","type":"quantitative","scale":{"domain":[-1.109,1.41],"nice":false,"zero":false}},"y":{"field":"y","type":"quantitative","scale":{"domain":[-1.173,1.016],"nice":false,"zero":false}},"text":{"field":"lab"}}}
]
}
]
}
]
}
